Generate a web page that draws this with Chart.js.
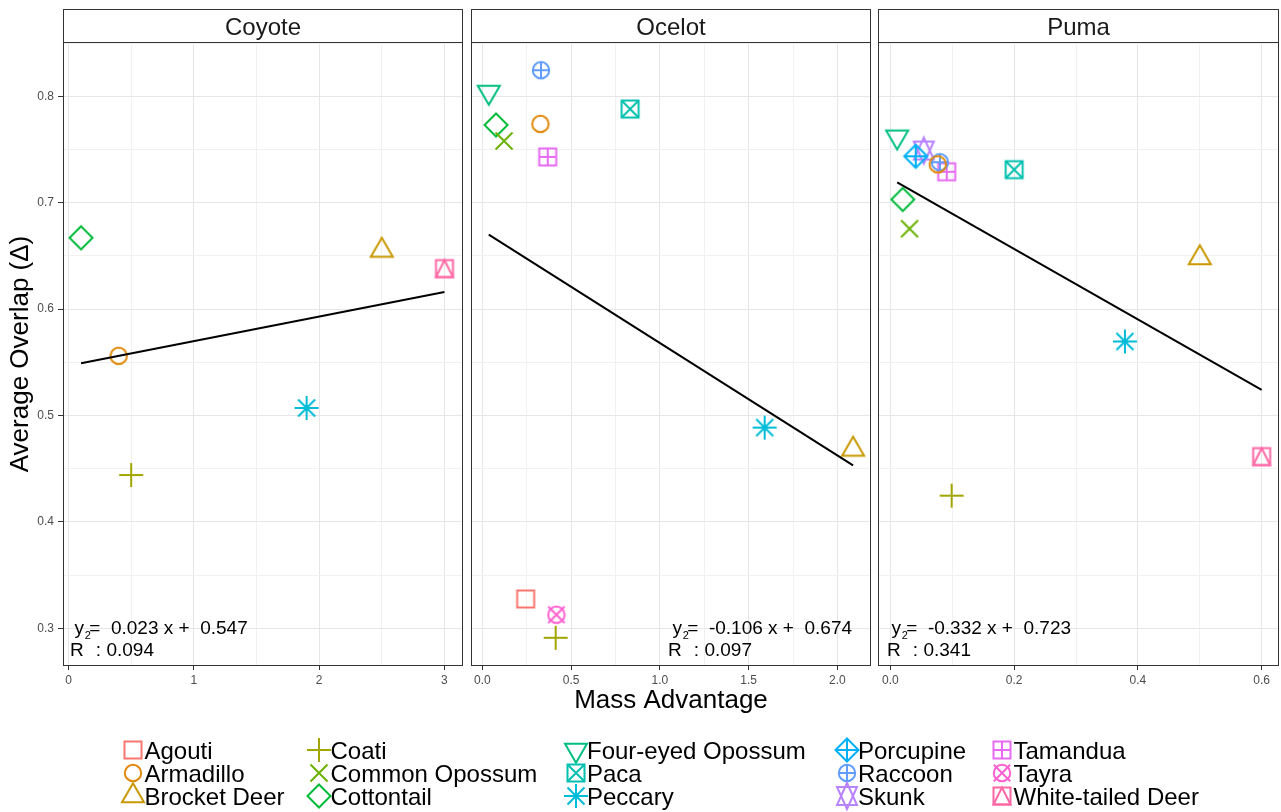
<!DOCTYPE html>
<html>
<head>
<meta charset="utf-8">
<script src="https://cdn.jsdelivr.net/npm/chart.js@4.4.1/dist/chart.umd.min.js"></script>
<style>
  body { margin: 0; background: #fff; }
  #page { position: relative; width: 1281px; height: 812px; overflow: hidden;
          font-family: 'Liberation Sans', Arial, sans-serif; }
  #page canvas.panel { position: absolute; left: 0; top: 0; }
  .key { position: absolute; height: 23px; line-height: 23px; font-size: 24px;
         color: #000; white-space: nowrap; padding-left: 23px; }
  .key canvas { position: absolute; left: -8.5px; top: -8.5px; }
</style>
</head>
<body>
<div id="page">
  <canvas id="coyote" class="panel" width="1281" height="812"></canvas>
  <canvas id="ocelot" class="panel" width="1281" height="812"></canvas>
  <canvas id="puma" class="panel" width="1300" height="812"></canvas>
  <div id="legend"></div>
</div>
<script>
Chart.defaults.font.family = "'Liberation Sans', Arial, sans-serif";

// prey species (legend order)
const species = ['Agouti', 'Armadillo', 'Brocket Deer', 'Coati', 'Common Opossum', 'Cottontail',
  'Four-eyed Opossum', 'Paca', 'Peccary', 'Porcupine', 'Raccoon', 'Skunk', 'Tamandua', 'Tayra',
  'White-tailed Deer'];
const speciesColors = ['#F8766D', '#E08A0C', '#C99800', '#A3A500', '#6BB100', '#00BA38', '#00BF7D',
  '#00C0AF', '#00BCD8', '#00B0F6', '#619CFF', '#B983FF', '#E76BF3', '#FD61D1', '#FF67A4'];
const speciesShapes = ['square', 'circle', 'triangle', 'plus', 'cross', 'diamond', 'triangleDown',
  'squareCross', 'asterisk', 'diamondPlus', 'circlePlus', 'triangleStar', 'squarePlus', 'circleCross',
  'squareTriangle'];

// Coyote panel (null = species not in panel)
const coyoteX = [null, 0.40, 2.50, 0.50, null, 0.10, null, null, 1.90, null, null, null, null, null, 3.00];
const coyoteY = [null, 0.556, 0.655, 0.444, null, 0.667, null, null, 0.507, null, null, null, null, null, 0.638];
const coyoteFitX = [0.10, 3.00];
const coyoteFitY = [0.549, 0.616];

// Ocelot panel
const ocelotX = [0.244, 0.327, 2.088, 0.413, 0.122, 0.077, 0.036, 0.832, 1.59, null, 0.33, null, 0.368, 0.417, null];
const ocelotY = [0.3275, 0.774, 0.468, 0.291, 0.758, 0.773, 0.804, 0.788, 0.4886, null, 0.8245, null, 0.743, 0.3127, null];
const ocelotFitX = [0.036, 2.088];
const ocelotFitY = [0.670, 0.453];

// Puma panel
const pumaX = [null, 0.0765, 0.50, 0.099, 0.031, 0.020, 0.011, 0.20, 0.379, 0.041, 0.080, 0.054, 0.091, null, 0.60];
const pumaY = [null, 0.736, 0.648, 0.4246, 0.6755, 0.703, 0.762, 0.731, 0.5695, 0.7436, 0.738, 0.749, 0.729, null, 0.4613];
const pumaFitX = [0.011, 0.60];
const pumaFitY = [0.719, 0.524];

// regression labels
const coyoteEq = 'y =  0.023 x +  0.547', coyoteR2 = '0.094';
const ocelotEq = 'y =  -0.106 x +  0.674', ocelotR2 = '0.097';
const pumaEq = 'y =  -0.332 x +  0.723', pumaR2 = '0.341';

// ticks
const yTicks = [0.3, 0.4, 0.5, 0.6, 0.7, 0.8];
const yTickLabels = ['0.3', '0.4', '0.5', '0.6', '0.7', '0.8'];
const yMinor = [0.35, 0.45, 0.55, 0.65, 0.75, 0.85];
const coyoteTicks = [0, 1, 2, 3];
const coyoteTickLabels = ['0', '1', '2', '3'];
const coyoteMinor = [0.5, 1.5, 2.5];
const ocelotTicks = [0, 0.5, 1, 1.5, 2];
const ocelotTickLabels = ['0.0', '0.5', '1.0', '1.5', '2.0'];
const ocelotMinor = [0.25, 0.75, 1.25, 1.75];
const pumaTicks = [0, 0.2, 0.4, 0.6];
const pumaTickLabels = ['0.0', '0.2', '0.4', '0.6'];
const pumaMinor = [0.1, 0.3, 0.5];

// draw a ggplot-like hollow marker
function drawSymbol(ctx, shape, cx, cy, color) {
  const sq = 8.5, rc = 8.2, dm = 11.5, tx = 11, tu = 12.7, td = 6.3, pl = 12, cr = 8.5;
  ctx.save();
  ctx.strokeStyle = color;
  ctx.lineWidth = 2;
  const rect = s => ctx.strokeRect(cx - s, cy - s, 2 * s, 2 * s);
  const circle = r => { ctx.beginPath(); ctx.arc(cx, cy, r, 0, Math.PI * 2); ctx.stroke(); };
  const poly = pts => {
    ctx.beginPath();
    pts.forEach((p, k) => k ? ctx.lineTo(cx + p[0], cy + p[1]) : ctx.moveTo(cx + p[0], cy + p[1]));
    ctx.closePath(); ctx.stroke();
  };
  const plus = a => {
    ctx.beginPath();
    ctx.moveTo(cx - a, cy); ctx.lineTo(cx + a, cy);
    ctx.moveTo(cx, cy - a); ctx.lineTo(cx, cy + a);
    ctx.stroke();
  };
  const cross = a => {
    ctx.beginPath();
    ctx.moveTo(cx - a, cy - a); ctx.lineTo(cx + a, cy + a);
    ctx.moveTo(cx - a, cy + a); ctx.lineTo(cx + a, cy - a);
    ctx.stroke();
  };
  const triUp = () => poly([[0, -tu], [tx, td], [-tx, td]]);
  const triDown = () => poly([[0, tu], [tx, -td], [-tx, -td]]);
  const diamond = d => poly([[0, -d], [d, 0], [0, d], [-d, 0]]);

  switch (shape) {
    case 'square': rect(sq); break;
    case 'circle': circle(rc); break;
    case 'triangle': triUp(); break;
    case 'plus': plus(pl); break;
    case 'cross': cross(cr); break;
    case 'diamond': diamond(dm); break;
    case 'triangleDown': triDown(); break;
    case 'squareCross': rect(sq); cross(sq); break;
    case 'asterisk': plus(pl); cross(cr); break;
    case 'diamondPlus': diamond(dm); plus(dm); break;
    case 'circlePlus': circle(rc); plus(rc); break;
    case 'triangleStar':
      poly([[0, -13], [10, 9], [-10, 9]]);
      poly([[0, 13], [10, -9], [-10, -9]]);
      break;
    case 'squarePlus': rect(sq); plus(sq); break;
    case 'circleCross': circle(rc); cross(rc); break;
    case 'squareTriangle': rect(sq); poly([[-sq, sq], [0, -sq], [sq, sq]]); break;
  }
  ctx.restore();
}

function makeSymbol(i) {
  const c = document.createElement('canvas');
  c.width = 40; c.height = 40;
  drawSymbol(c.getContext('2d'), speciesShapes[i], 20, 20, speciesColors[i]);
  return c;
}
const pointImages = species.map((s, i) => makeSymbol(i));

const near = (a, b) => Math.abs(a - b) < 1e-9;
const labelFor = (v, ticks, labels) => {
  const k = ticks.findIndex(t => near(t, v));
  return k < 0 ? '' : labels[k];
};
const isMinor = (minor, c) => c.tick && minor.some(v => near(v, c.tick.value));
const gridColor = minor => c => isMinor(minor, c) ? '#F1F1F1' : '#E6E6E6';
const tickColor = minor => c => isMinor(minor, c) ? 'rgba(0,0,0,0)' : '#333333';

// strip, panel border and regression text
const facetPlugin = {
  id: 'facet',
  afterDraw(chart, args, o) {
    const { ctx, chartArea: a } = chart;
    const fam = "'Liberation Sans', Arial, sans-serif";
    ctx.save();
    ctx.strokeStyle = '#333333';
    ctx.lineWidth = 1;
    ctx.strokeRect(a.left + 0.5, a.top + 0.5, a.right - a.left - 1, a.bottom - a.top - 1);
    ctx.strokeRect(a.left + 0.5, 9.5, a.right - a.left - 1, a.top - 9);
    ctx.fillStyle = '#1A1A1A';
    ctx.font = '24px ' + fam;
    ctx.textAlign = 'center';
    ctx.textBaseline = 'alphabetic';
    ctx.fillText(o.label, (a.left + a.right) / 2, 35);

    ctx.fillStyle = '#000';
    ctx.textAlign = 'left';
    const x0 = a.left + o.eqDx;
    ctx.font = '19px ' + fam;
    ctx.fillText(o.eq, x0 + 4.5, a.bottom - 32);
    ctx.fillText('R', x0, a.bottom - 10.5);
    const wR = ctx.measureText('R').width;
    ctx.font = '11px ' + fam;
    ctx.fillText('2', x0 + wR + 1, a.bottom - 27);
    const w2 = ctx.measureText('2').width;
    ctx.font = '19px ' + fam;
    ctx.fillText(': ' + o.r2, x0 + wR + 1 + w2 + 5, a.bottom - 10.5);
    ctx.restore();
  }
};

function makePanel(id, p) {
  const datasets = [{
    label: 'fit',
    data: p.fitX.map((x, k) => ({ x: x, y: p.fitY[k] })),
    showLine: true, borderColor: '#000', borderWidth: 2, pointRadius: 0, fill: false
  }];
  species.forEach((name, i) => {
    if (p.xs[i] == null) return;
    datasets.push({
      label: name,
      data: [{ x: p.xs[i], y: p.ys[i] }],
      pointStyle: pointImages[i], pointRadius: 10,
      borderColor: speciesColors[i], backgroundColor: 'transparent'
    });
  });

  return new Chart(document.getElementById(id), {
    type: 'scatter',
    data: { datasets },
    plugins: [facetPlugin],
    options: {
      responsive: false,
      animation: false,
      events: [],
      clip: false,
      layout: { padding: { left: p.padLeft, right: p.padRight, top: 42, bottom: p.padBottom } },
      plugins: {
        legend: { display: false },
        tooltip: { enabled: false },
        facet: { label: p.label, eq: p.eq, r2: p.r2, eqDx: p.eqDx }
      },
      scales: {
        x: {
          type: 'linear', min: p.xMin, max: p.xMax,
          afterBuildTicks: s => { s.ticks = p.xTicks.concat(p.xMinor).sort((a, b) => a - b).map(v => ({ value: v })); },
          afterFit: s => { s.height = p.xHeight; },
          ticks: {
            color: '#4D4D4D', font: { size: 12 }, padding: 3, autoSkip: false, maxRotation: 0,
            callback: v => labelFor(v, p.xTicks, p.xTickLabels)
          },
          grid: { color: gridColor(p.xMinor), lineWidth: 1, tickLength: 4, tickColor: tickColor(p.xMinor) },
          border: { display: false },
          title: {
            display: !!p.xTitle, text: p.xTitle || '', color: '#000',
            font: { size: 26 }, padding: { top: 0, bottom: 10 }
          }
        },
        y: {
          type: 'linear', min: 0.2645, max: 0.851,
          afterBuildTicks: s => { s.ticks = yTicks.concat(yMinor).sort((a, b) => a - b).map(v => ({ value: v })); },
          afterFit: s => { s.width = p.yWidth; },
          ticks: {
            display: p.showY, color: '#4D4D4D', font: { size: 12 }, padding: 4, autoSkip: false,
            callback: v => labelFor(v, yTicks, yTickLabels)
          },
          grid: {
            color: gridColor(yMinor), lineWidth: 1, drawTicks: p.showY, tickLength: 5,
            tickColor: tickColor(yMinor)
          },
          border: { display: false },
          title: {
            display: p.showY, text: 'Average Overlap (\u0394)', color: '#000',
            font: { size: 26 }, padding: { top: 5, bottom: 0 }
          }
        }
      }
    }
  });
}

makePanel('coyote', {
  label: 'Coyote', xs: coyoteX, ys: coyoteY, fitX: coyoteFitX, fitY: coyoteFitY,
  eq: coyoteEq, r2: coyoteR2, eqDx: 7,
  xMin: -0.044, xMax: 3.148, xTicks: coyoteTicks, xTickLabels: coyoteTickLabels, xMinor: coyoteMinor,
  padLeft: 0, padRight: 818, padBottom: 116, xHeight: 30, yWidth: 63, showY: true
});
makePanel('ocelot', {
  label: 'Ocelot', xs: ocelotX, ys: ocelotY, fitX: ocelotFitX, fitY: ocelotFitY,
  eq: ocelotEq, r2: ocelotR2, eqDx: 197,
  xMin: -0.064, xMax: 2.189, xTicks: ocelotTicks, xTickLabels: ocelotTickLabels, xMinor: ocelotMinor,
  padLeft: 471, padRight: 410, padBottom: 86, xHeight: 60, yWidth: 0, showY: false,
  xTitle: 'Mass Advantage'
});
makePanel('puma', {
  label: 'Puma', xs: pumaX, ys: pumaY, fitX: pumaFitX, fitY: pumaFitY,
  eq: pumaEq, r2: pumaR2, eqDx: 9,
  xMin: -0.020, xMax: 0.628, xTicks: pumaTicks, xTickLabels: pumaTickLabels, xMinor: pumaMinor,
  padLeft: 878, padRight: 21, padBottom: 116, xHeight: 30, yWidth: 0, showY: false
});

// legend: 5 columns x 3 rows, filled column by column
const legendColLeft = [121.5, 307.5, 564, 835, 990.5];
const legendRowTop = [738.5, 761.5, 784.5];
const legend = document.getElementById('legend');
species.forEach((name, i) => {
  const item = document.createElement('div');
  item.className = 'key';
  item.style.left = legendColLeft[Math.floor(i / 3)] + 'px';
  item.style.top = legendRowTop[i % 3] + 'px';
  item.appendChild(makeSymbol(i));
  item.appendChild(document.createTextNode(name));
  legend.appendChild(item);
});
</script>
</body>
</html>
